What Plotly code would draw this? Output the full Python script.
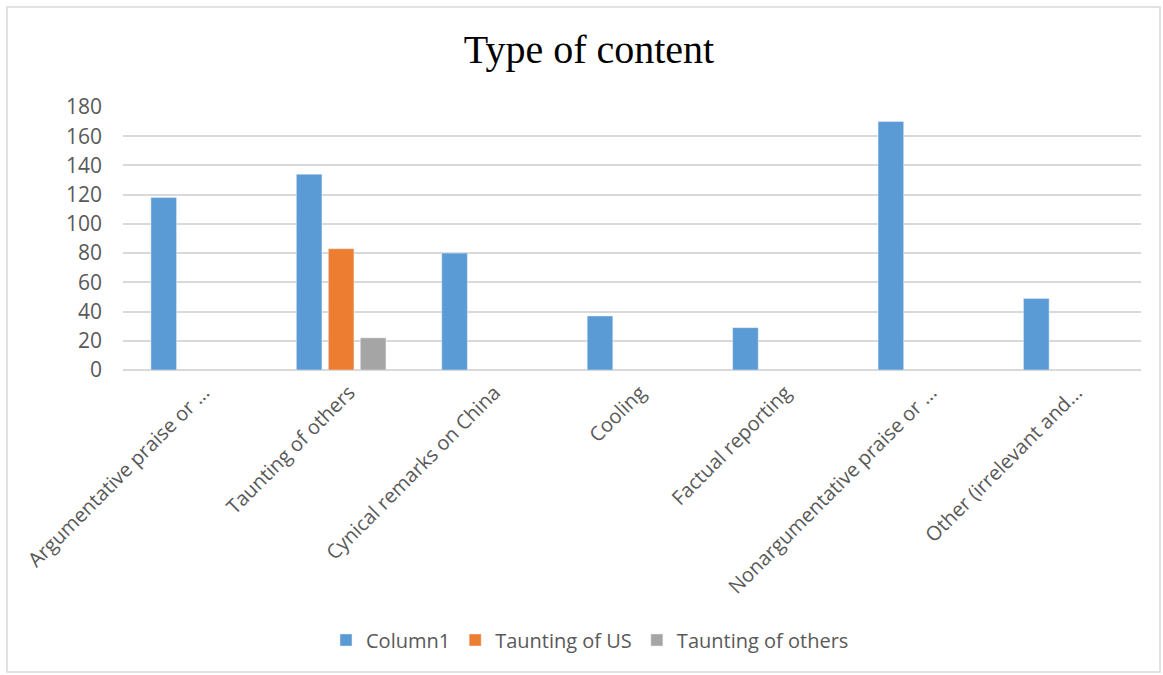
import plotly.graph_objects as go

categories = [
    "Argumentative praise or ...",
    "Taunting of others",
    "Cynical remarks on China",
    "Cooling",
    "Factual reporting",
    "Nonargumentative praise or ...",
    "Other (irrelevant and...",
]
column1 = [118, 134, 80, 37, 29, 170, 49]
taunting_us = [None, 83, None, None, None, None, None]
taunting_others = [None, 22, None, None, None, None, None]
y_ticks = [0, 20, 40, 60, 80, 100, 120, 140, 160, 180]

W, H = 1163, 675
L, R, T, B = 123, 1141, 107, 370
pw, ph = R - L, B - T

def px(x):
    return (x - L) / pw

def py(y):
    return (B - y) / ph

fig = go.Figure()
fig.add_trace(go.Bar(x=categories, y=column1, name="Column1", marker_color="#5B9BD5"))
fig.add_trace(go.Bar(x=categories, y=taunting_us, name="Taunting of US", marker_color="#ED7D31"))
fig.add_trace(go.Bar(x=categories, y=taunting_others, name="Taunting of others", marker_color="#A5A5A5"))

font_family = "Open Sans, Calibri, sans-serif"
fig.update_layout(
    width=W, height=H,
    margin=dict(l=L, r=W - R, t=T, b=H - B),
    paper_bgcolor="white", plot_bgcolor="white",
    barmode="group", bargap=0.34, bargroupgap=0.2,
    title=dict(text="Type of content", x=589 / W, xref="container", y=1 - 49 / H,
               yref="container", xanchor="center", yanchor="middle",
               font=dict(family="Liberation Serif, serif", size=40, color="black")),
    font=dict(family=font_family, color="#595959"),
    xaxis=dict(tickangle=-45, tickfont=dict(size=20, color="#595959"), showgrid=False,
               showline=False, ticks="", fixedrange=True, ticklabelstandoff=6,
               ticklabelshift=8),
    yaxis=dict(range=[0, 180], tickvals=y_ticks, tickfont=dict(size=21, color="#595959"),
               showgrid=True, gridcolor="#D9D9D9", gridwidth=1.5, zeroline=True,
               zerolinecolor="#D9D9D9", zerolinewidth=1.5, showline=False,
               ticklabelstandoff=20),
    legend=dict(orientation="h", x=px(590), xanchor="center", y=py(640), yanchor="middle",
                font=dict(size=20, color="#595959"), itemwidth=30, traceorder="normal"),
    shapes=[dict(type="rect", xref="paper", yref="paper", x0=px(7), x1=px(1160),
                 y0=py(672), y1=py(7), line=dict(color="#D9D9D9", width=1.5),
                 fillcolor="rgba(0,0,0,0)", layer="below")],
)

fig.write_html("out.html")
